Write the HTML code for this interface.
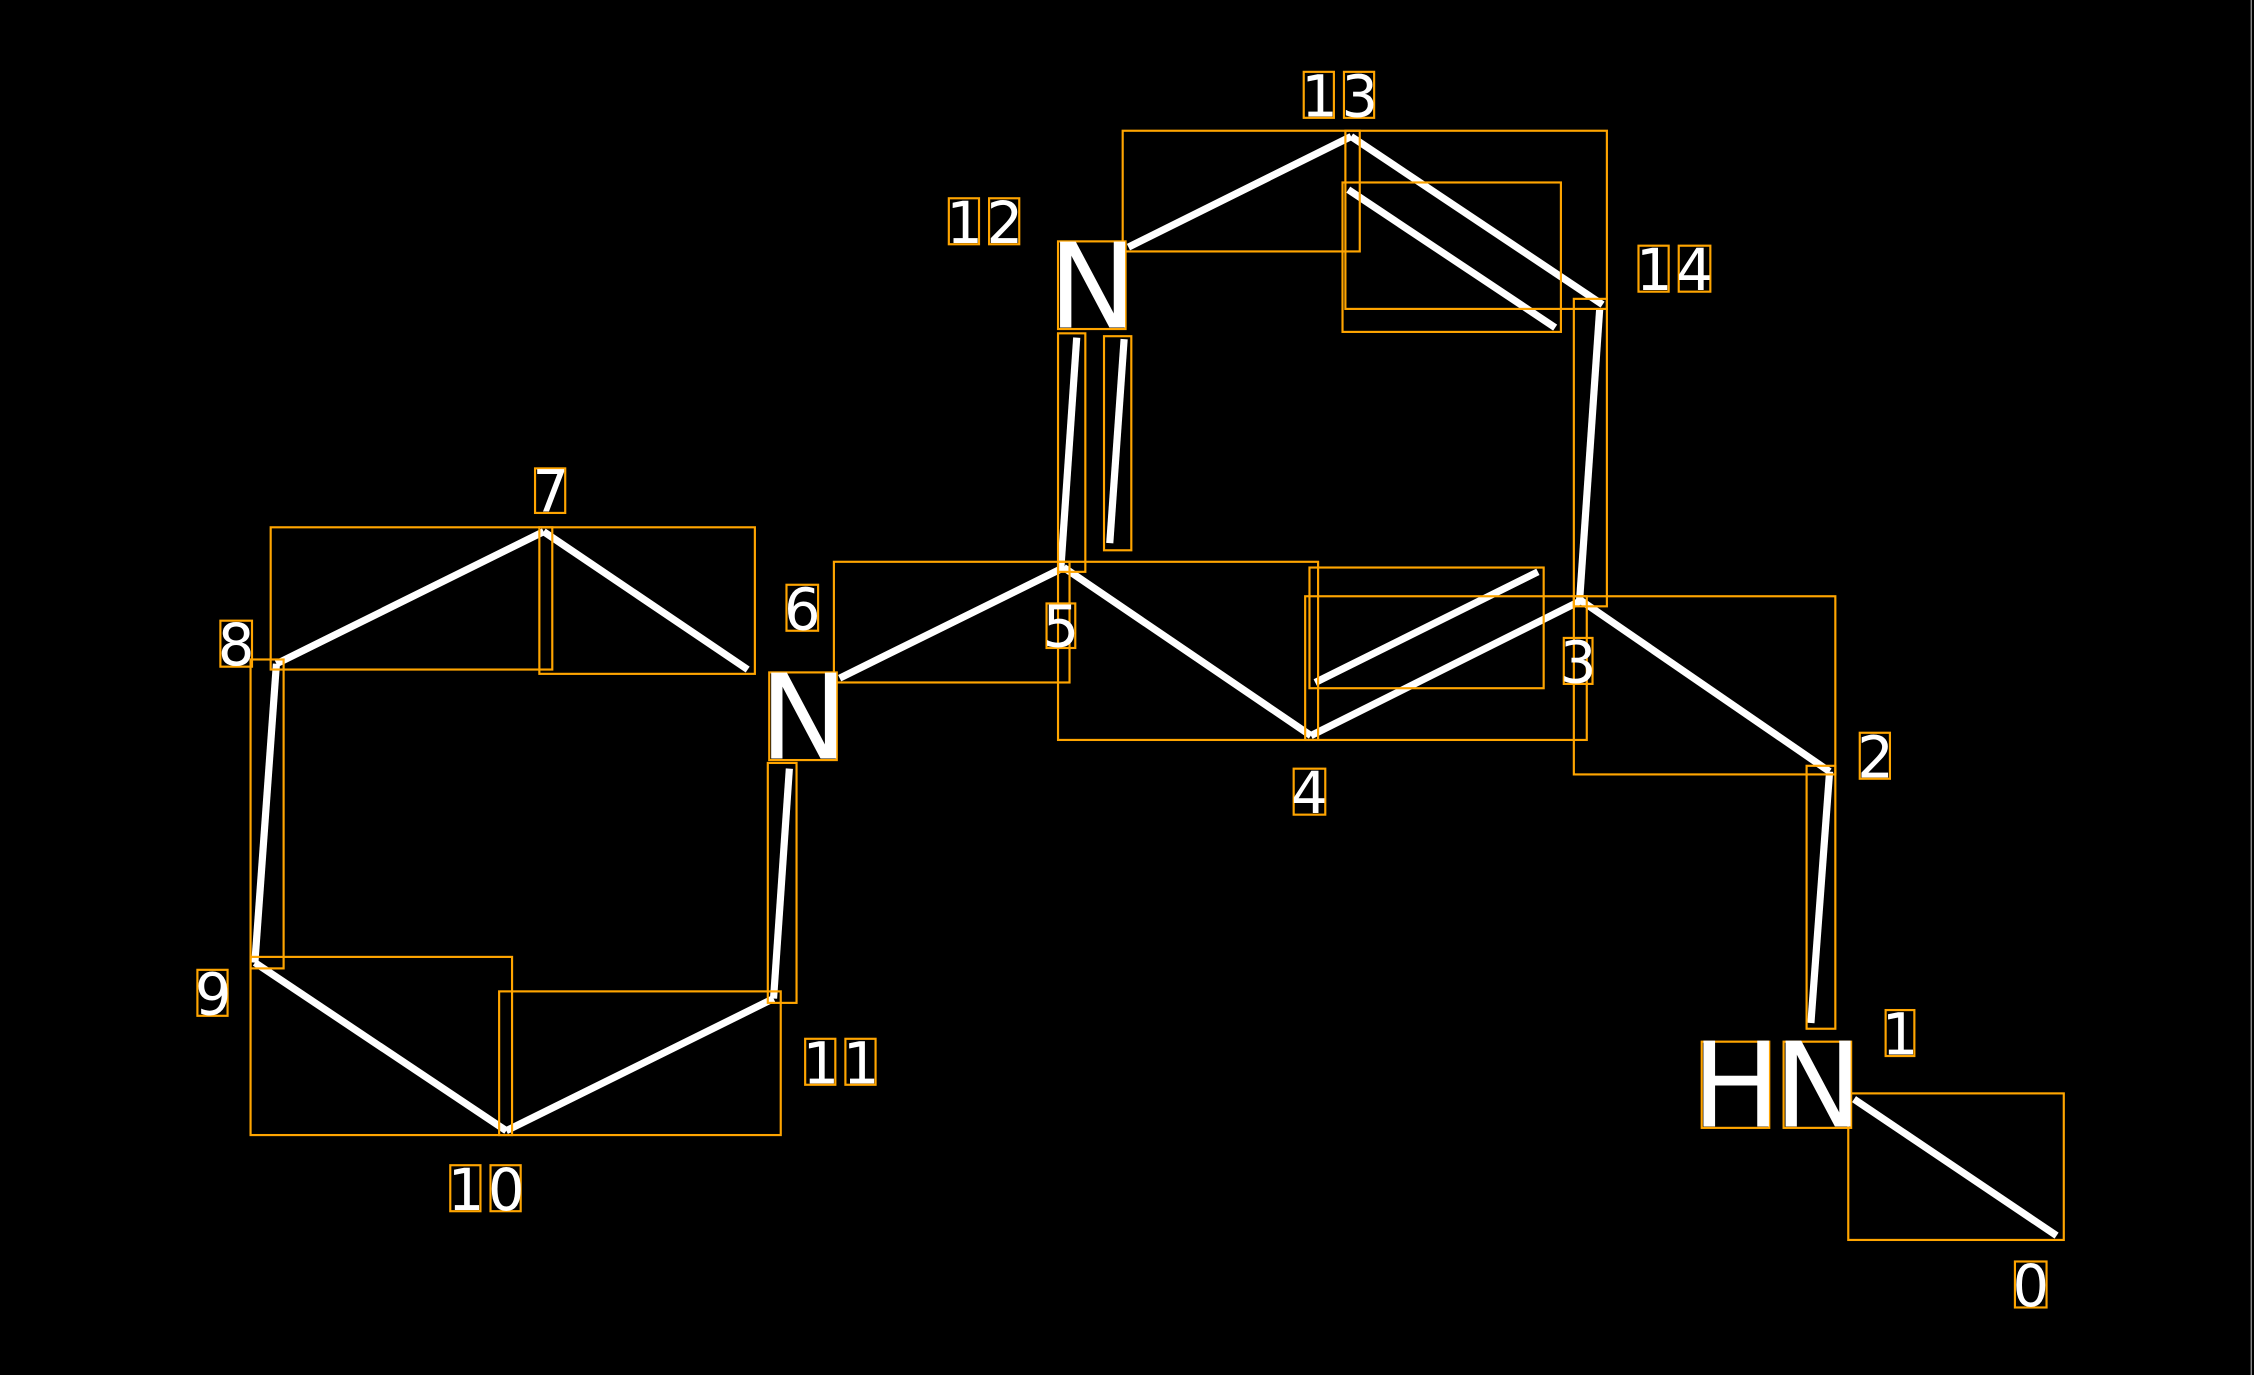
<!DOCTYPE html>
<html><head><meta charset="utf-8"><style>
html,body{margin:0;padding:0;background:#000;width:2254px;height:1375px;overflow:hidden}
svg{display:block}
text{font-family:"DejaVu Sans","Liberation Sans",sans-serif;fill:#fff}
</style></head><body>
<svg width="2254" height="1375" viewBox="0 0 1568 957" xmlns="http://www.w3.org/2000/svg">
<rect width="1568" height="957" fill="#000"/>
<line x1="1566.5" y1="0" x2="1566.5" y2="957" stroke="#888" stroke-width="1"/>
<g stroke="#fff" stroke-width="5" stroke-linecap="butt">
<line x1="940" y1="95" x2="785" y2="172"/>
<line x1="940" y1="95" x2="1115" y2="212"/>
<line x1="938" y1="132" x2="1082" y2="228"/>
<line x1="1113" y1="215" x2="1099" y2="418"/>
<line x1="1100" y1="418" x2="912" y2="512"/>
<line x1="915" y1="475" x2="1070" y2="398"/>
<line x1="912" y1="512" x2="740" y2="395"/>
<line x1="749" y1="235" x2="738" y2="395"/>
<line x1="782" y1="236" x2="772" y2="378"/>
<line x1="740" y1="395" x2="584" y2="472"/>
<line x1="549" y1="535" x2="538" y2="695"/>
<line x1="538" y1="695" x2="352" y2="787"/>
<line x1="352" y1="787" x2="177" y2="670"/>
<line x1="177" y1="670" x2="192" y2="462"/>
<line x1="192" y1="462" x2="378" y2="370"/>
<line x1="378" y1="370" x2="520" y2="466"/>
<line x1="1100" y1="418" x2="1273" y2="537"/>
<line x1="1273" y1="537" x2="1260" y2="712"/>
<line x1="1290" y1="765" x2="1431" y2="860"/>
</g>
<g fill="none" stroke="#ffa500" stroke-width="1.5">
<rect x="781" y="91" width="165" height="84"/>
<rect x="936" y="91" width="182" height="124"/>
<rect x="934" y="127" width="152" height="104"/>
<rect x="1095" y="208" width="23" height="214"/>
<rect x="908" y="415" width="196" height="100"/>
<rect x="911" y="395" width="163" height="84"/>
<rect x="736" y="391" width="181" height="124"/>
<rect x="736" y="232" width="19" height="166"/>
<rect x="768" y="234" width="19" height="149"/>
<rect x="580" y="391" width="164" height="84"/>
<rect x="534" y="531" width="20" height="167"/>
<rect x="347" y="690" width="196" height="100"/>
<rect x="174" y="666" width="182" height="124"/>
<rect x="174" y="459" width="23" height="215"/>
<rect x="188" y="367" width="196" height="99"/>
<rect x="375" y="367" width="150" height="102"/>
<rect x="1095" y="415" width="182" height="124"/>
<rect x="1257" y="533" width="20" height="183"/>
<rect x="1286" y="761" width="150" height="102"/>
<rect x="736" y="168" width="47" height="61"/>
<rect x="535" y="468" width="47" height="61"/>
<rect x="1184" y="725" width="47" height="60"/>
<rect x="1241" y="725" width="47" height="60"/>
<rect x="907" y="50" width="21" height="32"/><rect x="935" y="50" width="21" height="32"/>
<rect x="660" y="138" width="21" height="32"/><rect x="688" y="138" width="21" height="32"/>
<rect x="1140" y="171" width="21" height="32"/><rect x="1168" y="171" width="22" height="32"/>
<rect x="372" y="326" width="21" height="31"/>
<rect x="547" y="407" width="22" height="32"/>
<rect x="153" y="432" width="22" height="32"/>
<rect x="728" y="420" width="20" height="31"/>
<rect x="1088" y="444" width="20" height="32"/>
<rect x="900" y="535" width="22" height="32"/>
<rect x="1294" y="510" width="21" height="32"/>
<rect x="137" y="675" width="21" height="32"/>
<rect x="560" y="723" width="21" height="32"/><rect x="588" y="723" width="21" height="32"/>
<rect x="1312" y="703" width="20" height="32"/>
<rect x="313" y="811" width="21" height="32"/><rect x="341" y="811" width="21" height="32"/>
<rect x="1402" y="878" width="22" height="32"/>
</g>
<g font-size="82" text-anchor="middle">
<text x="760" y="228">N</text>
<text x="559" y="528">N</text>
<text x="1208" y="784">H</text>
<text x="1265" y="784">N</text>
</g>
<g font-size="40" text-anchor="middle">
<text x="918" y="81">1</text><text x="946" y="81">3</text>
<text x="671" y="169">1</text><text x="699" y="169">2</text>
<text x="1151" y="202">1</text><text x="1179" y="202">4</text>
<text x="383" y="356">7</text>
<text x="558" y="438">6</text>
<text x="164" y="463">8</text>
<text x="738" y="450">5</text>
<text x="1098" y="475">3</text>
<text x="911" y="566">4</text>
<text x="1305" y="541">2</text>
<text x="148" y="706">9</text>
<text x="571" y="754">1</text><text x="599" y="754">1</text>
<text x="1322" y="734">1</text>
<text x="324" y="842">1</text><text x="352" y="842">0</text>
<text x="1413" y="909">0</text>
</g>
</svg>
</body></html>
